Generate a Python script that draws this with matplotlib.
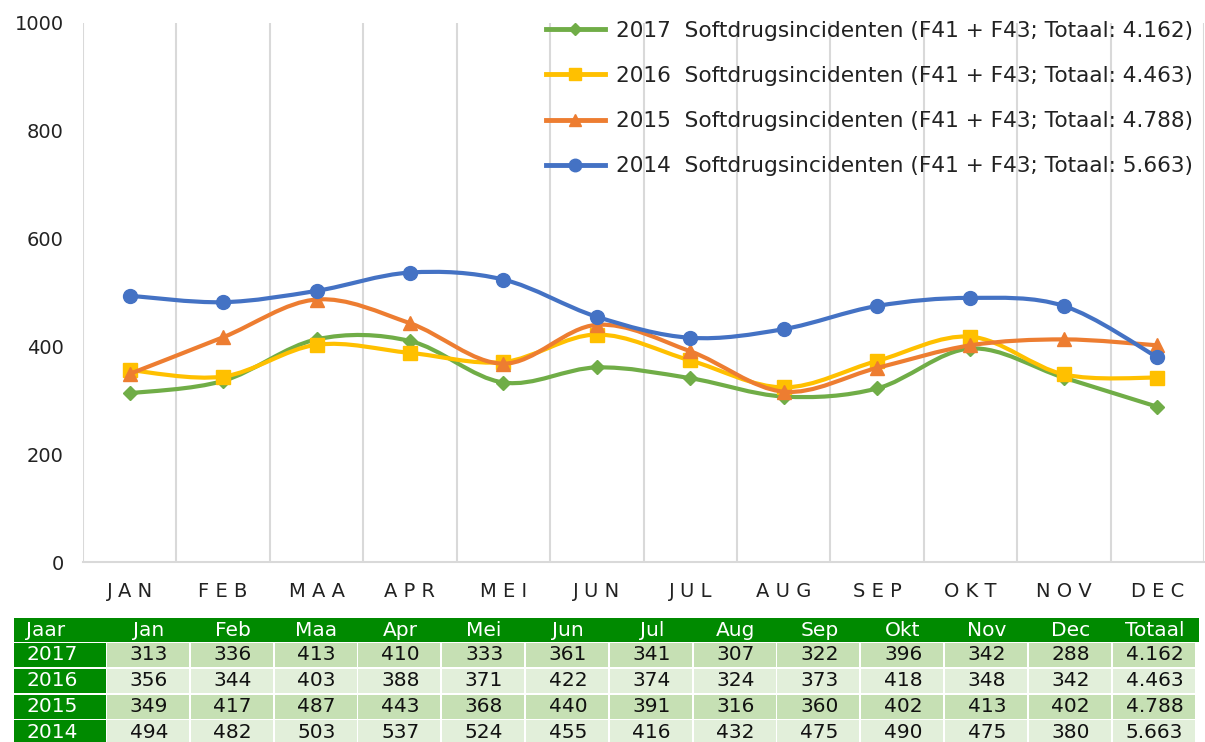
import matplotlib.pyplot as plt
from matplotlib.path import Path
from matplotlib.patches import PathPatch, Rectangle
from matplotlib.lines import Line2D

# chart data
months = ['JAN', 'FEB', 'MAA', 'APR', 'MEI', 'JUN', 'JUL', 'AUG', 'SEP', 'OKT', 'NOV', 'DEC']
table_months = ['Jan', 'Feb', 'Maa', 'Apr', 'Mei', 'Jun', 'Jul', 'Aug', 'Sep', 'Okt', 'Nov', 'Dec']
years = ['2017', '2016', '2015', '2014']
totals = ['4.162', '4.463', '4.788', '5.663']
v2017 = [313, 336, 413, 410, 333, 361, 341, 307, 322, 396, 342, 288]
v2016 = [356, 344, 403, 388, 371, 422, 374, 324, 373, 418, 348, 342]
v2015 = [349, 417, 487, 443, 368, 440, 391, 316, 360, 402, 413, 402]
v2014 = [494, 482, 503, 537, 524, 455, 416, 432, 475, 490, 475, 380]
series = [v2017, v2016, v2015, v2014]
colors = ['#70AD47', '#FFC000', '#ED7D31', '#4472C4']
markers = ['D', 's', '^', 'o']
msizes = [7.5, 10, 10, 10]

plt.rcParams['font.family'] = ['DejaVu Sans']

W, H = 1205, 742
fig = plt.figure(figsize=(W / 100, H / 100), dpi=100)
ax = fig.add_axes([83 / W, 1 - 562 / H, 1121 / W, 539 / H])


def smooth_path(xs, ys):
    # cubic bezier segments (Excel-like smoothed line)
    pts = list(zip(xs, ys))
    verts = [pts[0]]
    codes = [Path.MOVETO]
    n = len(pts)
    for i in range(n - 1):
        p0 = pts[max(i - 1, 0)]
        p1 = pts[i]
        p2 = pts[i + 1]
        p3 = pts[min(i + 2, n - 1)]
        c1 = (p1[0] + (p2[0] - p0[0]) / 6, p1[1] + (p2[1] - p0[1]) / 6)
        c2 = (p2[0] - (p3[0] - p1[0]) / 6, p2[1] - (p3[1] - p1[1]) / 6)
        verts += [c1, c2, p2]
        codes += [Path.CURVE4] * 3
    return Path(verts, codes)


x = list(range(len(months)))
handles = []
for i, (vals, c, m, ms) in enumerate(zip(series, colors, markers, msizes)):
    ax.add_patch(PathPatch(smooth_path(x, vals), fill=False, edgecolor=c,
                           lw=3, capstyle='round', joinstyle='round', zorder=3 + i))
    ax.plot(x, vals, ls='none', marker=m, ms=ms, color=c, mec=c, zorder=3 + i)
    handles.append(Line2D([], [], color=c, lw=3.5, marker=m, ms=ms - 1, mec=c))

labels = ['%s  Softdrugsincidenten (F41 + F43; Totaal: %s)' % (y, t) for y, t in zip(years, totals)]
leg = ax.legend(handles, labels, loc='upper right', bbox_to_anchor=(0.998, 1.02),
                frameon=False, fontsize=15.6, handlelength=2.75, handletextpad=0.5,
                labelspacing=1.16, borderaxespad=0)
for t in leg.get_texts():
    t.set_color('#222222')

ax.set_xlim(-0.5, 11.5)
ax.set_ylim(0, 1000)
ax.set_yticks(range(0, 1001, 200))
ax.set_xticks(x)
ax.set_xticklabels([' '.join(mo) for mo in months])
ax.set_xticks([k - 0.5 for k in range(13)], minor=True)
ax.grid(True, axis='x', which='minor', color='#D9D9D9', lw=1.5)
ax.tick_params(axis='both', which='both', length=0, labelsize=14, colors='#222222')
ax.tick_params(axis='y', pad=14)
ax.tick_params(axis='x', pad=14.5)
for s in ['top', 'right', 'left']:
    ax.spines[s].set_visible(False)
ax.spines['bottom'].set_color('#D9D9D9')
ax.spines['bottom'].set_linewidth(1.5)

# data table below the chart (pixel coordinates)
tx = fig.add_axes([0, 0, 1, 1])
tx.set_xlim(0, W)
tx.set_ylim(H, 0)
tx.axis('off')

dark = '#008A00'
light = ['#C6E0B4', '#E2EFDA']
col0_x, col0_w = 14, 92
col_x0, col_w = 107, 83.8
head_y, head_h = 618, 24
row_y0, row_h, row_gap = 643, 24, 1.8

tx.add_patch(Rectangle((col0_x, head_y), 1199 - col0_x, head_h, color=dark, lw=0))
tx.text(col0_x + 12, head_y + head_h / 2, 'Jaar', color='white', fontsize=14.5,
        va='center', ha='left')
for j, name in enumerate(table_months + ['Totaal']):
    tx.text(col_x0 + col_w * (j + 0.5), head_y + head_h / 2, name, color='white',
            fontsize=14.5, va='center', ha='center')

for r, (yr, vals, tot) in enumerate(zip(years, series, totals)):
    y0 = row_y0 + r * (row_h + row_gap)
    tx.add_patch(Rectangle((col0_x, y0), col0_w, row_h, color=dark, lw=0))
    tx.text(col0_x + 12, y0 + row_h / 2, yr, color='white', fontsize=14.5,
            va='center', ha='left')
    cells = [str(v) for v in vals] + [tot]
    for j, txt in enumerate(cells):
        cx = col_x0 + col_w * j
        tx.add_patch(Rectangle((cx, y0), col_w - 1.8, row_h, color=light[r % 2], lw=0))
        tx.text(cx + col_w / 2, y0 + row_h / 2, txt, color='#111111', fontsize=14.5,
                va='center', ha='center')

fig.savefig('out.png', dpi=100)
